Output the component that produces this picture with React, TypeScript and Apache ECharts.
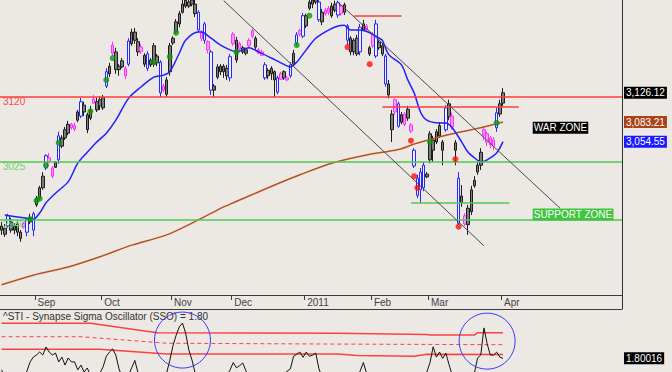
import React, { useEffect, useRef } from 'react';
import * as echarts from 'echarts';

// ---------- data ----------
const SLOT_COUNT = 196; // daily slots on the time axis (bars + empty right margin)
const monthStartIdx = [11, 32, 54, 73, 96, 117, 135, 158];
const monthLabels = ['Sep', 'Oct', 'Nov', 'Dec', '2011', 'Feb', 'Mar', 'Apr'];

// [open, close, low, high]
const ohlc: number[][] = [
  [2925, 2931, 2918, 2937], [2928, 2919, 2915, 2934], [2931, 2946, 2928, 2949], [2937, 2925, 2921, 2943],
  [2925, 2931, 2919, 2935], [2934, 2922, 2916, 2940], [2922, 2913, 2908, 2925], [2930, 2935, 2927, 2937],
  [2922, 2940, 2916, 2943], [2937, 2943, 2934, 2949], [2925, 2949, 2916, 2952], [2962, 2972, 2959, 2975],
  [2972, 2987, 2969, 2990], [2987, 3004, 2984, 3010], [3016, 3034, 3013, 3036], [3031, 3025, 3023, 3038],
  [3016, 3004, 3001, 3019], [3017, 3025, 3016, 3026], [3028, 3063, 3022, 3069], [3048, 3060, 3045, 3064],
  [3060, 3072, 3057, 3076], [3067, 3080, 3064, 3085], [3080, 3075, 3072, 3082], [3078, 3073, 3070, 3082],
  [3086, 3098, 3083, 3101], [3092, 3113, 3089, 3119], [3108, 3098, 3092, 3113], [3094, 3072, 3067, 3097],
  [3089, 3101, 3086, 3107], [3111, 3117, 3110, 3123], [3101, 3113, 3098, 3119], [3107, 3116, 3101, 3121],
  [3104, 3119, 3101, 3123], [3136, 3157, 3133, 3162], [3154, 3165, 3149, 3170], [3184, 3196, 3180, 3201],
  [3186, 3160, 3154, 3192], [3160, 3165, 3151, 3168], [3173, 3164, 3162, 3177], [3162, 3151, 3146, 3165],
  [3168, 3202, 3165, 3206], [3198, 3215, 3195, 3220], [3203, 3215, 3198, 3221], [3201, 3186, 3180, 3206],
  [3193, 3187, 3183, 3198], [3181, 3168, 3164, 3184], [3162, 3183, 3158, 3187], [3174, 3167, 3164, 3177],
  [3168, 3195, 3164, 3199], [3180, 3170, 3165, 3183], [3171, 3126, 3120, 3174], [3136, 3130, 3127, 3139],
  [3124, 3145, 3120, 3149], [3157, 3195, 3151, 3199], [3199, 3206, 3196, 3209], [3215, 3230, 3212, 3234],
  [3227, 3242, 3222, 3246], [3244, 3256, 3242, 3262], [3253, 3262, 3250, 3266], [3259, 3253, 3250, 3268],
  [3256, 3262, 3253, 3266], [3256, 3242, 3237, 3262], [3244, 3218, 3215, 3247], [3215, 3206, 3202, 3218],
  [3227, 3203, 3198, 3230], [3201, 3189, 3184, 3203], [3186, 3130, 3123, 3189], [3130, 3136, 3120, 3139],
  [3149, 3164, 3146, 3168], [3165, 3157, 3152, 3168], [3157, 3165, 3148, 3168], [3162, 3151, 3145, 3167],
  [3148, 3179, 3143, 3183], [3198, 3212, 3195, 3215], [3174, 3203, 3170, 3208], [3198, 3190, 3187, 3201],
  [3192, 3186, 3183, 3195], [3189, 3184, 3181, 3192], [3195, 3203, 3192, 3206], [3209, 3217, 3206, 3220],
  [3206, 3193, 3190, 3209], [3189, 3184, 3183, 3192], [3186, 3181, 3180, 3189], [3148, 3167, 3145, 3171],
  [3159, 3151, 3146, 3162], [3154, 3162, 3145, 3165], [3157, 3145, 3120, 3159], [3148, 3127, 3124, 3151],
  [3154, 3146, 3145, 3157], [3157, 3148, 3145, 3159], [3148, 3145, 3143, 3151], [3151, 3167, 3148, 3171],
  [3168, 3184, 3165, 3189], [3199, 3211, 3195, 3215], [3212, 3217, 3209, 3220], [3209, 3239, 3206, 3243],
  [3224, 3239, 3221, 3242], [3250, 3259, 3247, 3265], [3256, 3262, 3250, 3266], [3259, 3263, 3256, 3266],
  [3233, 3259, 3230, 3263], [3244, 3230, 3225, 3249], [3247, 3242, 3239, 3250], [3250, 3244, 3240, 3253],
  [3239, 3253, 3236, 3258], [3247, 3256, 3244, 3261], [3240, 3258, 3236, 3261], [3253, 3242, 3239, 3256],
  [3255, 3244, 3240, 3258], [3224, 3203, 3196, 3227], [3206, 3186, 3181, 3209], [3203, 3186, 3181, 3206],
  [3206, 3183, 3180, 3211], [3186, 3222, 3181, 3227], [3227, 3218, 3217, 3233], [3224, 3218, 3215, 3227],
  [3192, 3183, 3180, 3195], [3211, 3195, 3192, 3215], [3180, 3227, 3177, 3233], [3200, 3192, 3189, 3203],
  [3195, 3183, 3180, 3199], [3180, 3139, 3135, 3183], [3139, 3123, 3118, 3145], [3095, 3072, 3054, 3101],
  [3116, 3098, 3094, 3118], [3077, 3110, 3075, 3113], [3094, 3083, 3080, 3098], [3095, 3080, 3077, 3098],
  [3089, 3102, 3085, 3107], [3079, 3070, 3067, 3082], [3042, 3019, 3016, 3045], [3001, 2976, 2972, 3006],
  [2984, 3010, 2965, 3016], [2987, 3020, 2982, 3025], [3007, 3003, 3001, 3010], [3028, 3066, 3023, 3070],
  [3042, 3057, 3025, 3063], [3054, 3069, 3051, 3073], [3063, 3078, 3060, 3083], [3042, 3054, 3020, 3057],
  [3072, 3104, 3069, 3108], [3091, 3110, 3086, 3116], [3092, 3076, 3072, 3097], [3053, 3042, 3020, 3057],
  [3001, 2935, 2933, 3010], [2975, 2965, 2959, 2991], [2946, 2934, 2931, 2950], [2933, 2957, 2918, 2962],
  [2952, 2984, 2947, 2990], [2990, 2998, 2987, 3004], [3010, 3020, 3006, 3025], [3020, 3039, 3013, 3045],
  [3072, 3064, 3057, 3077], [3066, 3054, 3048, 3069], [3060, 3050, 3045, 3063], [3057, 3048, 3042, 3061],
  [3075, 3097, 3069, 3104], [3095, 3110, 3091, 3116], [3111, 3126.12, 3107, 3133],
];

// candle tone per bar: k = black, b = blue, m = magenta
const candleTone =
  'kkbkkkkmbk' + 'bkkkbmmkbk' + 'kkmmkbkkkm' + 'kkkbkmkkkm' + 'bkkkmkbkkk' +
  'bmkkkkkkkk' + 'kkbmbmbkkk' + 'kkbmkmkkmm' + 'kmmbkkkbmk' + 'mbkbmbkkkk' +
  'bkmmkkbmkb' + 'kkkbkmkmbk' + 'kbkkmbkmkm' + 'bbbbkkkkkk' + 'bkmkbkmkkk' + 'kkmmmmbkk';

const greenSignals = [
  [9, 2941], [11, 2968], [12, 2971], [14, 3020], [18, 3053], [28, 3099], [33, 3145], [35, 3177],
  [48, 3171], [53, 3179], [55, 3214], [74, 3186], [93, 3196], [97, 3239], [135, 3054], [156, 3082],
];
const redSignals = [
  [109, 3193], [116, 3168], [129, 3056], [130, 3004], [131, 2987], [143, 3029], [144, 2930],
];

// short moving average (blue) read at its vertices
const emaLine = [
  [1, 2947], [7, 2943], [10, 2941], [12, 2950], [14, 2965], [17, 2979], [21, 2996], [24, 3023],
  [27, 3039], [30, 3054], [33, 3067], [36, 3086], [40, 3118], [44, 3135], [48, 3149], [51, 3152],
  [53, 3157], [56, 3184], [58, 3203], [62, 3215], [63, 3215], [66, 3206], [69, 3196], [72, 3189],
  [74, 3186], [78, 3192], [81, 3186], [85, 3177], [88, 3170], [91, 3164], [93, 3171], [96, 3189],
  [99, 3206], [103, 3218], [106, 3224], [108, 3225], [110, 3218], [113, 3218], [116, 3214], [119, 3206],
  [120, 3203], [122, 3182], [126, 3167], [128, 3145], [130, 3126], [132, 3098], [134, 3086], [138, 3082],
  [140, 3082], [142, 3075], [145, 3054], [147, 3039], [149, 3031], [151, 3025], [153, 3028], [156, 3038],
  [158, 3054.55],
];
// long moving average (brown)
const maLine = [
  [0, 2845], [10, 2859], [21, 2871], [31, 2886], [41, 2903], [52, 2918], [62, 2940], [70, 2959],
  [73, 2965], [84, 2987], [94, 3006], [104, 3023], [115, 3035], [125, 3043], [130, 3051], [140, 3064],
  [151, 3075], [158, 3083.21],
];

const redLevels = [3120];
const greenLevels = [3025, 2940];
// [startIdx, endIdx, price]
const redSegments = [[111, 126, 3239], [120, 163, 3105]];
const greenSegments = [[129, 160, 2965]];
// [idx1, price1, idx2, price2]
const trendLines = [[70, 3261, 152, 2902], [106, 3259, 176, 2957]];

// oscillator
const ssoValues = [
  1.25, 0.9, 0.7, 0.5, 0.6, 0.8, 0.7, 0.9, 1.2, 1.63, 1.86, 1.96, 2.1, 1.96, 2.34, 2.1, 1.96, 2.05, 1.63, 1.86,
  1.48, 1.82, 1.63, 1.63, 1.25, 1.48, 1.15, 1.34, 1.0, 0.7, 0.9, 1.1, 1.4, 1.9, 2.1, 2.25, 1.95, 1.3, 0.9, 0.7,
  1.0, 1.35, 1.7, 1.1, 0.8, 0.6, 0.5, 0.7, 0.9, 0.8, 0.6, 0.7, 1.1, 1.7, 2.4, 2.9, 3.3, 3.48, 3.0, 2.2,
  1.72, 1.1, 0.8, 0.6, 0.5, 0.7, 0.9, 0.6, 0.8, 1.0, 1.1, 1.0, 1.25, 1.6, 1.35, 1.45, 1.58, 1.2, 0.9, 0.7,
  0.5, 0.6, 0.8, 0.7, 0.5, 0.4, 0.6, 0.8, 0.7, 1.0, 1.2, 1.3, 1.9, 2.0, 2.1, 1.85, 2.1, 1.9, 1.95, 2.05,
  1.3, 0.9, 0.7, 0.6, 0.8, 0.5, 0.6, 0.9, 0.7, 0.6, 0.8, 1.0, 0.9, 1.2, 1.6, 1.1, 0.8, 0.6, 0.5, 0.4,
  0.6, 0.3, 0.2, 0.4, 0.5, 0.3, 0.6, 0.4, 0.7, 0.5, 0.3, 0.6, 0.8, 1.0, 1.15, 1.6, 2.35, 1.86, 2.1, 1.8,
  2.05, 1.5, 1.0, 0.8, 0.5, 0.3, 0.4, 0.6, 0.9, 1.1, 1.82, 1.96, 3.25, 2.5, 1.96, 1.95, 2.1, 1.86, 1.80016,
];
const ssoUpper = [[0, 3.47], [28, 3.47], [49, 3.02], [105, 2.99], [134, 2.94], [135, 2.91], [149, 2.91], [150, 3.02], [158, 3.02]];
const ssoMiddle = [[0, 2.83], [25, 2.83], [52, 2.52], [105, 2.48], [158, 2.45]];
const ssoLower = [[0, 2.23], [31, 2.23], [52, 2.01], [106, 2.01], [112, 1.93], [130, 1.9], [134, 2.0], [158, 1.98]];
const ssoCircles = [[57, 2.67], [153, 2.62]];
const ssoTitle = '^STI - Synapse Sigma Oscillator (SSO) = 1.80';

// ---------- styles ----------
const BG = '#ece8e4';
const FONT = '"Liberation Sans", Arial, Helvetica, sans-serif';
const RED = '#ff3c3c';
const GREEN = '#4fc84f';
const TONES: Record<string, { fill: string; line: string }> = {
  k: { fill: '#7c7c7c', line: '#1c1c1c' },
  b: { fill: '#f3f1ff', line: '#2626ff' },
  m: { fill: '#ff9cff', line: '#ff30ff' },
};

const levelItem = (p: number, color: string, text: string) => ({
  yAxis: p,
  lineStyle: { color, width: 1.5, type: 'solid', opacity: 1 },
  label: {
    show: true,
    position: 'insideStartBottom',
    formatter: String(p),
    color: text,
    fontSize: 10,
    fontFamily: FONT,
    distance: [3, 0],
  },
});
const segItem = (a: number, pa: number, b: number, pb: number, color: string, width: number) => [
  { coord: [a, pa], lineStyle: { color, width, type: 'solid', opacity: 1 }, label: { show: false } },
  { coord: [b, pb], lineStyle: { color, width, type: 'solid', opacity: 1 }, label: { show: false } },
];

export default function App() {
  const ref = useRef<HTMLDivElement>(null);

  useEffect(() => {
    const el = ref.current;
    if (!el) return;
    const chart = echarts.init(el, null, { renderer: 'svg' });
    const cats = Array.from({ length: SLOT_COUNT }, (_, i) => String(i));
    const isMonthStart = (i: number) => monthStartIdx.indexOf(i) >= 0;

    const candleData = ohlc.map((v, i) => {
      const t = TONES[candleTone[i]] || TONES.k;
      return {
        value: v,
        itemStyle: { color: t.fill, color0: t.fill, borderColor: t.line, borderColor0: t.line, borderWidth: 1 },
      };
    });

    const lineMark = (data: any[], color: string, width: number) => ({
      type: 'line',
      xAxisIndex: 0,
      yAxisIndex: 0,
      data: [],
      color,
      itemStyle: { color },
      lineStyle: { color },
      z: 2,
      markLine: {
        symbol: ['none', 'none'],
        silent: true,
        animation: false,
        lineStyle: { color, width, type: 'solid', opacity: 1 },
        data,
      },
    });

    const redMarks = [
      ...redLevels.map((p) => levelItem(p, RED, '#ff4a4a')),
      ...redSegments.map(([a, b, p]) => segItem(a, p, b, p, RED, 1.5)),
    ];
    const greenMarks = [
      ...greenLevels.map((p) => levelItem(p, GREEN, '#6cd26c')),
      ...greenSegments.map(([a, b, p]) => segItem(a, p, b, p, GREEN, 1.5)),
    ];
    const trendMarks = trendLines.map(([a, p1, b, p2]) => segItem(a, p1, b, p2, '#4a4a4a', 1));

    const option: any = {
      animation: false,
      backgroundColor: BG,
      textStyle: { fontFamily: FONT },
      title: {
        text: ssoTitle,
        left: 3,
        top: 311,
        padding: 0,
        textStyle: { fontSize: 10, fontWeight: 'normal', color: '#333', fontFamily: FONT },
      },
      grid: [
        { left: 0, top: 0, width: 622, height: 295 },
        { left: 0, top: 309, width: 622, height: 63 },
      ],
      xAxis: [
        {
          type: 'category',
          gridIndex: 0,
          data: cats,
          boundaryGap: true,
          axisLine: { show: true, lineStyle: { color: '#3a3a3a', width: 1 } },
          axisTick: {
            show: true,
            interval: (i: number) => isMonthStart(i),
            length: 5,
            lineStyle: { color: '#3a3a3a' },
          },
          axisLabel: {
            show: true,
            interval: (i: number) => isMonthStart(i),
            formatter: (_v: string, i: number) => {
              const k = monthStartIdx.indexOf(i);
              return k >= 0 ? monthLabels[k] : '';
            },
            align: 'left',
            margin: 2,
            padding: [0, 0, 0, 1],
            fontSize: 10,
            color: '#444',
            fontFamily: FONT,
          },
          splitLine: { show: false },
        },
        {
          type: 'category',
          gridIndex: 1,
          data: cats,
          position: 'top',
          boundaryGap: true,
          axisLine: { show: true, lineStyle: { color: '#3a3a3a', width: 1 } },
          axisTick: { show: false },
          axisLabel: { show: false },
          splitLine: { show: false },
        },
      ],
      yAxis: [
        { type: 'value', gridIndex: 0, min: 2830, max: 3262, show: false, splitLine: { show: false } },
        { type: 'value', gridIndex: 1, min: 1.15, max: 4.15, show: false, splitLine: { show: false } },
      ],
      series: [
        lineMark(greenMarks, GREEN, 1.5),
        lineMark(redMarks, RED, 1.5),
        lineMark(trendMarks, '#4a4a4a', 1),
        {
          type: 'candlestick',
          xAxisIndex: 0,
          yAxisIndex: 0,
          barWidth: 3,
          clip: true,
          data: candleData,
          z: 3,
        },
        {
          type: 'line',
          xAxisIndex: 0,
          yAxisIndex: 0,
          data: maLine,
          symbol: 'none',
          smooth: 0.3,
          lineStyle: { color: '#b9511f', width: 1.5 },
          z: 4,
        },
        {
          type: 'line',
          xAxisIndex: 0,
          yAxisIndex: 0,
          data: emaLine,
          symbol: 'none',
          smooth: 0.3,
          lineStyle: { color: '#1f1fff', width: 1.5 },
          z: 4,
        },
        {
          type: 'scatter',
          xAxisIndex: 0,
          yAxisIndex: 0,
          data: greenSignals,
          symbol: 'circle',
          symbolSize: 6,
          itemStyle: { color: '#0c9a0c' },
          z: 6,
        },
        {
          type: 'scatter',
          xAxisIndex: 0,
          yAxisIndex: 0,
          data: redSignals,
          symbol: 'circle',
          symbolSize: 6,
          itemStyle: { color: '#ff1010' },
          z: 6,
        },
        {
          type: 'line',
          xAxisIndex: 1,
          yAxisIndex: 1,
          data: ssoUpper,
          symbol: 'none',
          lineStyle: { color: '#ff4040', width: 1.5 },
        },
        {
          type: 'line',
          xAxisIndex: 1,
          yAxisIndex: 1,
          data: ssoMiddle,
          symbol: 'none',
          lineStyle: { color: '#ff4040', width: 1, type: [4, 3] },
        },
        {
          type: 'line',
          xAxisIndex: 1,
          yAxisIndex: 1,
          data: ssoLower,
          symbol: 'none',
          lineStyle: { color: '#ff4040', width: 1.5 },
        },
        {
          type: 'line',
          xAxisIndex: 1,
          yAxisIndex: 1,
          data: ssoValues,
          symbol: 'none',
          clip: true,
          lineStyle: { color: '#111', width: 1 },
          z: 5,
        },
      ],
    };

    chart.setOption(option);

    const p0 = (x: number, v: number) => chart.convertToPixel({ gridIndex: 0 }, [x, v]) as number[];
    const p1 = (x: number, v: number) => chart.convertToPixel({ gridIndex: 1 }, [x, v]) as number[];
    const fmt = (v: number) =>
      v.toLocaleString('en-US', { minimumFractionDigits: 2, maximumFractionDigits: 2 });

    const lastClose = ohlc[ohlc.length - 1][1];
    const lastMa = maLine[maLine.length - 1][1];
    const lastEma = emaLine[emaLine.length - 1][1];
    const lastSso = ssoValues[ssoValues.length - 1];

    const boxText = (x: number, y: number, text: string, bg: string, pad: number[]) => ({
      type: 'text',
      x,
      y,
      z: 50,
      style: {
        text,
        fill: '#ffffff',
        backgroundColor: bg,
        padding: pad,
        font: `10px ${FONT}`,
        verticalAlign: 'middle',
        textVerticalAlign: 'middle',
      },
    });

    const warPt = p0(168, 3075);
    const supPt = p0(168, 2948);

    const graphic: any[] = [
      {
        type: 'line',
        shape: { x1: 622.5, y1: 0, x2: 622.5, y2: 309 },
        style: { stroke: '#333', lineWidth: 1 },
        z: 40,
      },
      boxText(624, p0(0, lastClose)[1], fmt(lastClose), '#000000', [1, 2, 1, 2]),
      boxText(624, p0(0, lastMa)[1], fmt(lastMa), '#a8431a', [1, 2, 1, 2]),
      boxText(624, p0(0, lastEma)[1], fmt(lastEma), '#1a1aff', [1, 2, 1, 2]),
      boxText(624, p1(0, lastSso)[1], String(lastSso), '#000000', [1, 2, 1, 2]),
      boxText(warPt[0] - 2, warPt[1], 'WAR ZONE', '#000000', [1, 1, 1, 1]),
      boxText(supPt[0] - 2, supPt[1], 'SUPPORT ZONE', '#3ec63e', [1, 1, 1, 1]),
      ...ssoCircles.map(([x, v]) => {
        const c = p1(x, v);
        return {
          type: 'circle',
          shape: { cx: c[0], cy: c[1], r: 28 },
          style: { fill: 'none', stroke: '#3a3aff', lineWidth: 1 },
          z: 45,
        };
      }),
    ];
    chart.setOption({ graphic });

    return () => chart.dispose();
  }, []);

  return <div ref={ref} style={{ position: 'fixed', left: 0, top: 0, width: 672, height: 372 }} />;
}
